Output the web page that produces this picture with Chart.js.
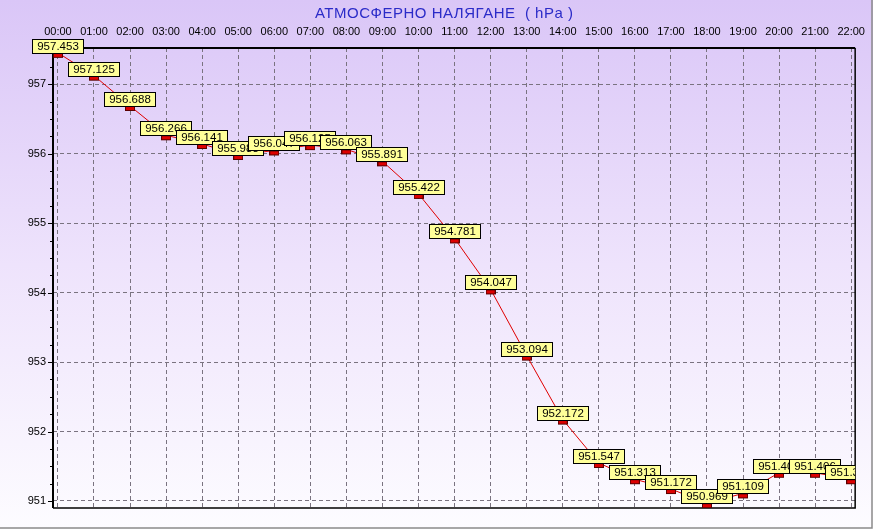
<!DOCTYPE html>
<html>
<head>
<meta charset="utf-8">
<script src="https://cdn.jsdelivr.net/npm/chart.js@4"></script>
<style>
html,body{margin:0;padding:0;background:#fff;}
#wrap{width:874px;height:529px;}
</style>
</head>
<body>
<div id="wrap"><canvas id="c" width="874" height="529"></canvas></div>
<script>
// ---- data ----
const chartTitle = "АТМОСФЕРНО НАЛЯГАНЕ  ( hPa )";
const hourLabels = ["00:00","01:00","02:00","03:00","04:00","05:00","06:00","07:00","08:00","09:00","10:00","11:00",
                    "12:00","13:00","14:00","15:00","16:00","17:00","18:00","19:00","20:00","21:00","22:00"];
const pressure = [957.453,957.125,956.688,956.266,956.141,955.983,956.047,956.125,956.063,955.891,955.422,954.781,
                  954.047,953.094,952.172,951.547,951.313,951.172,950.969,951.109,951.406,951.406,951.313];
const yTickValues = [951,952,953,954,955,956,957];

// point marker (red bar just under the point)
const marker = document.createElement('canvas');
marker.width = 10; marker.height = 12;
(function(){
  const m = marker.getContext('2d');
  m.fillStyle = '#dd0000';
  m.fillRect(0.5, 6.5, 9, 4);
  m.strokeStyle = '#5a0000';
  m.lineWidth = 1;
  m.strokeRect(0.5, 6.5, 9, 4);
})();

const bgPlugin = {
  id: 'bg',
  beforeDraw(chart) {
    const ctx = chart.ctx, W = chart.width, H = chart.height;
    const g = ctx.createLinearGradient(0, 0, 0, H);
    g.addColorStop(0, '#dac6f7');
    g.addColorStop(0.5, '#eee3fc');
    g.addColorStop(1, '#fdfcff');
    ctx.save();
    ctx.fillStyle = g;
    ctx.fillRect(0, 0, W, H);
    ctx.fillStyle = '#ffffff';
    ctx.fillRect(873, 0, 1, H);
    // outer gray frame (right & bottom)
    ctx.strokeStyle = '#8a8a8a';
    ctx.lineWidth = 1.5;
    ctx.beginPath();
    ctx.moveTo(872, 0); ctx.lineTo(872, 528); ctx.lineTo(0, 528);
    ctx.stroke();
    // title
    ctx.fillStyle = '#2b2bc8';
    ctx.font = '15px "Liberation Sans", Arial, sans-serif';
    ctx.textAlign = 'center';
    ctx.textBaseline = 'middle';
    const w0 = ctx.measureText(chartTitle).width;
    const n = [...chartTitle].length;
    const sp = Math.max(0, (258 - w0) / (n - 1));
    ctx.letterSpacing = sp.toFixed(2) + 'px';
    ctx.fillText(chartTitle, 444 + sp / 2, 14);
    ctx.restore();
  },
  beforeDatasetsDraw(chart) {
    const ctx = chart.ctx, a = chart.chartArea;
    const ys = chart.scales.y;
    ctx.save();
    ctx.strokeStyle = '#000';
    // y minor/major ticks
    ctx.lineWidth = 1;
    ctx.beginPath();
    for (let v = Math.ceil(ys.min * 4) / 4; v <= ys.max; v += 0.25) {
      const py = Math.round(ys.getPixelForValue(v)) + 0.5;
      const major = Math.abs(v - Math.round(v)) < 1e-6;
      ctx.moveTo(a.left - (major ? 5 : 3), py);
      ctx.lineTo(a.left, py);
    }
    ctx.stroke();
    // right & bottom frame
    ctx.lineWidth = 1.5;
    ctx.beginPath();
    ctx.moveTo(a.right, a.top); ctx.lineTo(a.right, a.bottom); ctx.lineTo(a.left, a.bottom);
    ctx.stroke();
    // top & left axes
    ctx.lineWidth = 2;
    ctx.beginPath();
    ctx.moveTo(a.left, a.bottom); ctx.lineTo(a.left, a.top); ctx.lineTo(a.right, a.top);
    ctx.stroke();
    ctx.restore();
  },
  afterDatasetsDraw(chart) {
    const ctx = chart.ctx, a = chart.chartArea;
    const meta = chart.getDatasetMeta(0);
    ctx.save();
    ctx.beginPath();
    ctx.rect(0, 0, a.right, chart.height);
    ctx.clip();
    ctx.font = '11.5px "Liberation Sans", Arial, sans-serif';
    ctx.textAlign = 'center';
    ctx.textBaseline = 'middle';
    meta.data.forEach((pt, i) => {
      const txt = pressure[i].toFixed(3);
      const tw = ctx.measureText(txt).width;
      const w = Math.round(tw + 9), h = 14;
      const cx = pt.x - 0.5;
      const left = Math.round(cx - w / 2) + 0.5;
      const top = Math.round(pt.y - h) + 0.5;
      ctx.fillStyle = '#ffff99';
      ctx.fillRect(left, top, w, h);
      ctx.strokeStyle = '#000';
      ctx.lineWidth = 1;
      ctx.strokeRect(left, top, w, h);
      ctx.fillStyle = '#000';
      ctx.fillText(txt, left + w / 2, top + h / 2 + 0.5);
    });
    ctx.restore();
  }
};

new Chart(document.getElementById('c'), {
  type: 'line',
  data: {
    datasets: [{
      data: pressure.map((v, i) => ({ x: i, y: v })),
      borderColor: '#e00000',
      borderWidth: 1,
      pointStyle: marker,
      pointRadius: 5,
      pointHoverRadius: 5,
      tension: 0,
      cubicInterpolationMode: 'default',
      fill: false
    }]
  },
  plugins: [bgPlugin],
  options: {
    responsive: false,
    animation: false,
    events: [],
    elements: { line: { tension: 0 } },
    layout: { padding: { left: 0, top: 0, right: 9, bottom: 21 } },
    plugins: { legend: { display: false }, title: { display: false }, tooltip: { enabled: false } },
    scales: {
      x: {
        type: 'linear',
        position: 'top',
        min: -0.137,
        max: 22.11,
        afterFit(s) { s.height = 48; },
        afterBuildTicks(s) { s.ticks = hourLabels.map((_, i) => ({ value: i })); },
        ticks: {
          callback: (v) => hourLabels[v],
          font: { family: '"Liberation Sans", Arial, sans-serif', size: 11 },
          color: '#000',
          padding: 9,
          maxRotation: 0,
          autoSkip: false
        },
        grid: { color: '#7a7380', lineWidth: 1, drawTicks: false },
        border: { display: false, dash: [4, 3] }
      },
      y: {
        type: 'linear',
        min: 950.899,
        max: 957.523,
        afterFit(s) { s.width = 53; },
        afterBuildTicks(s) { s.ticks = yTickValues.map(v => ({ value: v })); },
        ticks: {
          font: { family: '"Liberation Sans", Arial, sans-serif', size: 11 },
          color: '#000',
          padding: 7
        },
        grid: { color: '#7a7380', lineWidth: 1, drawTicks: false },
        border: { display: false, dash: [4, 3] }
      }
    }
  }
});
</script>
</body>
</html>
